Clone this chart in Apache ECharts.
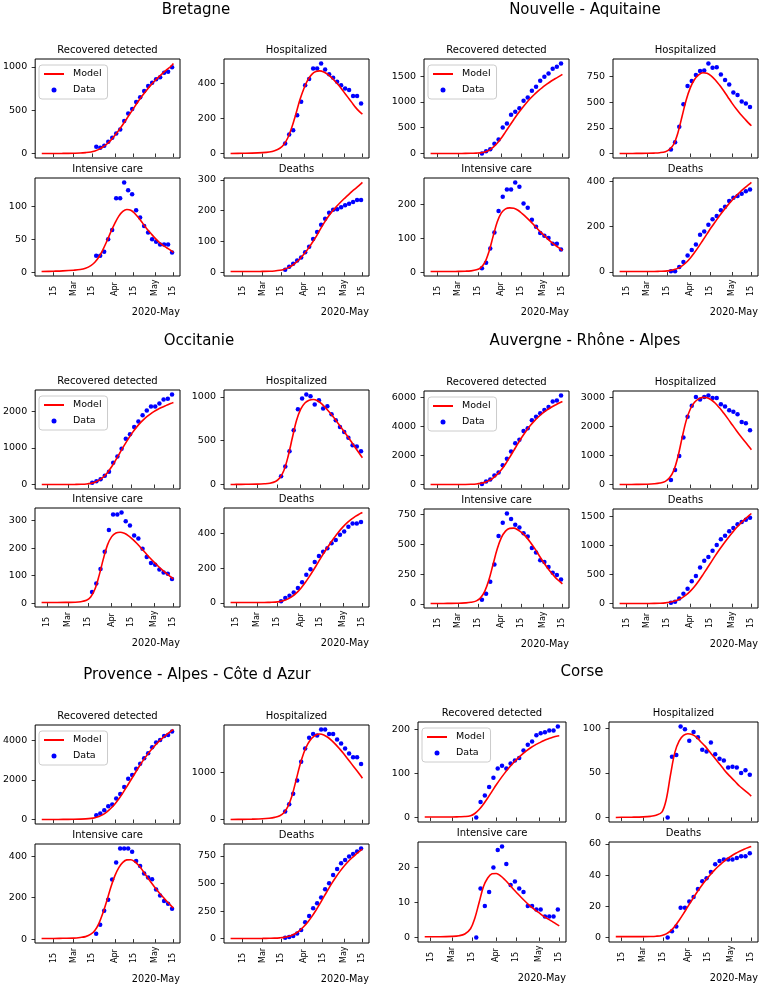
<!DOCTYPE html>
<html>
<head>
<meta charset="utf-8">
<script src="https://cdn.jsdelivr.net/npm/echarts@6/dist/echarts.min.js"></script>
<style>
html, body { margin: 0; padding: 0; background: #fff; }
#main { width: 762px; height: 987px; }
</style>
</head>
<body>
<div id="main"></div>
<script>
var regions = ['Bretagne', 'Nouvelle - Aquitaine', 'Occitanie', 'Auvergne - Rhône - Alpes', 'Provence - Alpes - Côte d Azur', 'Corse'];
var plotTitles = ['Recovered detected', 'Hospitalized', 'Intensive care', 'Deaths'];

// model curve: first value at the region's start date, then one per modelDates entry
var modelStart = ['2020-02-06', '2020-02-10', '2020-02-11', '2020-02-10', '2020-02-06', '2020-02-11'];
var modelDates = ['2020-02-15', '2020-02-22', '2020-03-01', '2020-03-06', '2020-03-10', '2020-03-14',
  '2020-03-17', '2020-03-20', '2020-03-23', '2020-03-26', '2020-03-29', '2020-04-01', '2020-04-04',
  '2020-04-07', '2020-04-10', '2020-04-13', '2020-04-16', '2020-04-19', '2020-04-22', '2020-04-25',
  '2020-04-28', '2020-05-01', '2020-05-04', '2020-05-07', '2020-05-10', '2020-05-13', '2020-05-15'];
var dataDates = ['2020-03-18', '2020-03-21', '2020-03-24', '2020-03-27', '2020-03-30', '2020-04-02',
  '2020-04-05', '2020-04-08', '2020-04-11', '2020-04-14', '2020-04-17', '2020-04-20', '2020-04-23',
  '2020-04-26', '2020-04-29', '2020-05-02', '2020-05-05', '2020-05-08', '2020-05-11', '2020-05-14'];
var xTickDates = ['2020-02-15', '2020-03-01', '2020-03-15', '2020-04-01', '2020-04-15', '2020-05-01', '2020-05-15'];
var xTickLabels = ['15', 'Mar', '15', 'Apr', '15', 'May', '15'];

// Bretagne
var bretagneRecData = [77, 66, 89, 135, 181, 232, 278, 375, 463, 514, 595, 649, 722, 780, 819, 857, 880, 934, 946, 996];
var bretagneRecModel = [0, 0, 1, 3, 5, 10, 18, 30, 48, 75, 110, 155, 210, 270, 335, 405, 475, 545, 612, 675, 735, 790, 840, 885, 928, 968, 1005, 1040];
var bretagneHospData = [57, 109, 133, 219, 295, 390, 425, 486, 486, 514, 480, 453, 432, 410, 390, 371, 362, 328, 328, 286];
var bretagneHospModel = [0, 1, 2, 5, 9, 16, 30, 52, 90, 150, 225, 305, 370, 420, 452, 468, 472, 466, 452, 432, 408, 382, 352, 322, 292, 262, 238, 225];
var bretagneIcData = [25, 25, 31, 50, 64, 112, 112, 136, 124, 118, 94, 83, 70, 60, 50, 46, 42, 42, 42, 30];
var bretagneIcModel = [1, 1.5, 2, 3, 4, 6, 10, 15, 23, 34, 47, 61, 74, 85, 92, 95, 94, 89, 82, 74, 66, 59, 52, 46, 41, 37, 33, 30];
var bretagneDeathData = [8, 18, 27, 38, 48, 65, 83, 108, 131, 154, 174, 193, 203, 205, 211, 218, 223, 228, 235, 235];
var bretagneDeathModel = [2, 2, 2, 2.5, 3, 4, 6, 9, 14, 21, 31, 43, 58, 75, 94, 114, 137, 159, 179, 196, 211, 225, 238, 250, 262, 273, 284, 292];

// Nouvelle - Aquitaine
var aquitaineRecData = [0, 45, 84, 187, 270, 502, 580, 753, 811, 876, 1024, 1088, 1217, 1294, 1410, 1487, 1552, 1642, 1681, 1745];
var aquitaineRecModel = [0, 0, 0, 1, 2, 4, 8, 12, 28, 60, 120, 200, 300, 420, 540, 660, 775, 880, 980, 1070, 1150, 1225, 1290, 1350, 1405, 1455, 1500, 1535];
var aquitaineHospData = [39, 109, 260, 479, 656, 704, 762, 801, 807, 875, 833, 839, 768, 714, 672, 592, 569, 505, 486, 453];
var aquitaineHospModel = [0, 0, 1, 2, 4, 8, 18, 40, 90, 200, 360, 520, 640, 720, 765, 785, 780, 755, 715, 665, 610, 550, 490, 435, 385, 340, 295, 270];
var aquitaineIcData = [12, 28, 70, 117, 181, 223, 244, 244, 265, 252, 203, 190, 155, 134, 116, 108, 101, 84, 84, 67];
var aquitaineIcModel = [2, 2, 2, 2.5, 3, 4, 7, 13, 28, 60, 105, 148, 175, 187, 190, 189, 183, 173, 162, 150, 137, 124, 112, 100, 89, 79, 70, 64];
var aquitaineDeathData = [3, 3, 22, 44, 73, 97, 121, 164, 179, 208, 233, 247, 272, 288, 313, 327, 335, 345, 356, 364];
var aquitaineDeathModel = [2, 2, 2, 2, 2, 3, 4, 6, 10, 16, 27, 42, 62, 86, 112, 140, 168, 196, 222, 248, 272, 295, 316, 336, 354, 370, 385, 395];

// Occitanie
var occitanieRecData = [46, 91, 146, 237, 347, 594, 767, 977, 1251, 1370, 1571, 1717, 1890, 2018, 2128, 2128, 2210, 2320, 2338, 2457];
var occitanieRecModel = [0, 0, 0, 1, 3, 6, 14, 30, 62, 118, 205, 330, 490, 680, 880, 1075, 1260, 1430, 1580, 1710, 1820, 1910, 1990, 2055, 2110, 2160, 2210, 2240];
var occitanieHospData = [95, 206, 378, 618, 859, 981, 1027, 1008, 912, 962, 866, 893, 802, 733, 656, 599, 534, 447, 435, 378];
var occitanieHospModel = [0, 1, 2, 4, 8, 15, 35, 75, 160, 320, 530, 730, 860, 930, 962, 970, 955, 920, 870, 815, 755, 690, 625, 560, 490, 420, 350, 305];
var occitanieIcData = [40, 71, 124, 187, 266, 323, 323, 330, 298, 283, 246, 235, 198, 168, 146, 140, 122, 111, 107, 88];
var occitanieIcModel = [2, 2, 2, 2.5, 3, 5, 10, 22, 50, 100, 160, 212, 242, 255, 258, 254, 245, 232, 217, 200, 183, 166, 150, 135, 121, 108, 96, 88];
var occitanieDeathData = [10, 29, 42, 61, 86, 120, 162, 194, 236, 270, 295, 314, 343, 362, 392, 411, 438, 457, 457, 465];
var occitanieDeathModel = [3, 3, 3, 3, 3, 4, 5, 8, 14, 24, 38, 58, 84, 115, 150, 188, 228, 268, 306, 342, 376, 408, 436, 460, 480, 498, 512, 520];

// Auvergne - Rhône - Alpes
var auvergneRecData = [46, 206, 343, 618, 824, 1327, 1785, 2288, 2860, 3089, 3707, 3890, 4439, 4691, 4920, 5149, 5355, 5744, 5812, 6156];
var auvergneRecModel = [0, 0, 1, 3, 8, 18, 40, 80, 150, 270, 450, 700, 1020, 1420, 1880, 2360, 2840, 3300, 3720, 4090, 4420, 4700, 4950, 5160, 5340, 5500, 5650, 5740];
var auvergneHospData = [160, 502, 981, 1619, 2337, 2714, 3010, 2930, 3010, 3067, 2976, 2976, 2760, 2691, 2554, 2508, 2417, 2155, 2109, 1870];
var auvergneHospModel = [0, 2, 5, 12, 25, 50, 110, 230, 480, 950, 1600, 2200, 2600, 2830, 2950, 3000, 2990, 2920, 2800, 2640, 2460, 2270, 2070, 1870, 1680, 1500, 1320, 1200];
var auvergneIcData = [34, 84, 185, 331, 570, 680, 758, 711, 663, 640, 593, 565, 469, 430, 365, 351, 309, 261, 242, 205];
var auvergneIcModel = [3, 3, 4, 5, 8, 13, 25, 50, 105, 200, 330, 460, 555, 610, 633, 635, 620, 595, 560, 515, 465, 410, 355, 305, 260, 220, 188, 168];
var auvergneDeathData = [17, 34, 91, 170, 255, 385, 475, 622, 736, 804, 911, 1007, 1109, 1166, 1245, 1302, 1364, 1403, 1443, 1477];
var auvergneDeathModel = [3, 3, 3, 4, 5, 8, 14, 24, 40, 65, 100, 150, 215, 295, 390, 495, 605, 715, 825, 930, 1030, 1125, 1215, 1300, 1375, 1445, 1510, 1550];

// Provence - Alpes - Côte d Azur
var provenceRecData = [218, 303, 471, 672, 756, 1059, 1294, 1647, 2067, 2252, 2571, 2824, 3109, 3361, 3664, 3899, 4034, 4235, 4286, 4454];
var provenceRecModel = [0, 2, 5, 10, 18, 30, 55, 90, 150, 250, 390, 570, 790, 1050, 1350, 1670, 2000, 2330, 2660, 2970, 3250, 3510, 3740, 3950, 4140, 4310, 4470, 4560];
var provenceHospData = [176, 331, 549, 831, 1232, 1514, 1739, 1817, 1789, 1915, 1915, 1817, 1817, 1704, 1620, 1514, 1408, 1324, 1324, 1183];
var provenceHospModel = [5, 8, 12, 20, 32, 50, 85, 150, 280, 500, 820, 1150, 1420, 1610, 1730, 1800, 1820, 1800, 1750, 1680, 1595, 1500, 1400, 1290, 1180, 1070, 960, 880];
var provenceIcData = [26, 69, 137, 190, 287, 369, 437, 437, 437, 421, 377, 353, 316, 297, 289, 239, 210, 184, 171, 147];
var provenceIcModel = [3, 3, 4, 5, 8, 12, 24, 42, 75, 125, 185, 250, 305, 345, 370, 382, 383, 373, 355, 330, 302, 275, 250, 226, 204, 183, 163, 150];
var provenceDeathData = [9, 15, 24, 48, 79, 148, 205, 275, 320, 372, 447, 502, 577, 631, 683, 713, 743, 767, 789, 816];
var provenceDeathModel = [2, 2, 2, 3, 4, 5, 8, 12, 20, 32, 50, 76, 110, 152, 200, 255, 315, 378, 440, 500, 556, 607, 653, 694, 730, 762, 792, 810];

// Corse
var corseRecData = [0, 35, 50, 69, 90, 111, 117, 111, 122, 129, 135, 152, 165, 172, 186, 191, 193, 197, 197, 206];
var corseRecModel = [1, 1, 1, 1, 1.5, 2, 4, 9, 18, 30, 44, 59, 74, 88, 101, 113, 124, 134, 143, 151, 158, 164, 169, 174, 178, 181, 184, 185];
var corseHospData = [0, 68, 70, 102, 99, 86, 96, 90, 76, 74, 84, 71, 66, 64, 56, 57, 56, 50, 53, 48];
var corseHospModel = [0, 0.2, 0.3, 0.6, 1.2, 2.5, 6, 20, 48, 73, 86, 92, 94, 93, 90, 85, 80, 74, 68, 62, 56, 50, 45, 40, 35, 31, 27, 24];
var corseIcData = [0, 14, 9, 13, 20, 25, 26, 21, 15, 16, 14, 13, 9, 9, 8, 8, 6, 6, 6, 8];
var corseIcModel = [0.2, 0.2, 0.2, 0.3, 0.5, 1, 2.5, 5.5, 10, 14.5, 17, 18.2, 18.3, 17.6, 16.5, 15.2, 13.8, 12.5, 11.2, 10, 8.9, 7.9, 7, 6.1, 5.3, 4.6, 3.8, 3.3];
var corseDeathData = [0, 4, 7, 19, 19, 23, 26, 31, 36, 38, 42, 47, 49, 50, 50, 50, 51, 52, 52, 54];
var corseDeathModel = [0.5, 0.5, 0.5, 0.5, 0.6, 0.8, 1.3, 2.3, 4.2, 7.2, 11, 15.3, 19.8, 24.2, 28.5, 32.5, 36.2, 39.6, 42.7, 45.5, 48, 50.2, 52.1, 53.8, 55.3, 56.6, 57.7, 58.3];

// y tick labels per region, per subplot
var bretagneTicks = [[0, 500, 1000], [0, 200, 400], [0, 50, 100], [0, 100, 200, 300]];
var aquitaineTicks = [[0, 500, 1000, 1500], [0, 250, 500, 750], [0, 100, 200], [0, 200, 400]];
var occitanieTicks = [[0, 1000, 2000], [0, 500, 1000], [0, 100, 200, 300], [0, 200, 400]];
var auvergneTicks = [[0, 2000, 4000, 6000], [0, 1000, 2000, 3000], [0, 250, 500, 750], [0, 500, 1000, 1500]];
var provenceTicks = [[0, 2000, 4000], [0, 1000], [0, 200, 400], [0, 250, 500, 750]];
var corseTicks = [[0, 100, 200], [0, 50, 100], [0, 10, 20], [0, 20, 40, 60]];

var allData = [
  [bretagneRecData, bretagneHospData, bretagneIcData, bretagneDeathData],
  [aquitaineRecData, aquitaineHospData, aquitaineIcData, aquitaineDeathData],
  [occitanieRecData, occitanieHospData, occitanieIcData, occitanieDeathData],
  [auvergneRecData, auvergneHospData, auvergneIcData, auvergneDeathData],
  [provenceRecData, provenceHospData, provenceIcData, provenceDeathData],
  [corseRecData, corseHospData, corseIcData, corseDeathData]
];
var allModel = [
  [bretagneRecModel, bretagneHospModel, bretagneIcModel, bretagneDeathModel],
  [aquitaineRecModel, aquitaineHospModel, aquitaineIcModel, aquitaineDeathModel],
  [occitanieRecModel, occitanieHospModel, occitanieIcModel, occitanieDeathModel],
  [auvergneRecModel, auvergneHospModel, auvergneIcModel, auvergneDeathModel],
  [provenceRecModel, provenceHospModel, provenceIcModel, provenceDeathModel],
  [corseRecModel, corseHospModel, corseIcModel, corseDeathModel]
];
var allTicks = [bretagneTicks, aquitaineTicks, occitanieTicks, auvergneTicks, provenceTicks, corseTicks];

// page layout (pixels): title centre, subplot box columns and rows
var layout = [
  { title: [196, 10], xs: [[35, 180], [224, 369]], ys: [[59, 158], [178, 276]] },
  { title: [585, 10], xs: [[424, 569], [613, 758]], ys: [[59, 158], [178, 276]] },
  { title: [199, 341], xs: [[35, 180], [224, 369]], ys: [[390, 489], [508, 607]] },
  { title: [585, 341], xs: [[424, 569], [613, 758]], ys: [[391, 489], [509, 608]] },
  { title: [197, 675], xs: [[35, 180], [224, 369]], ys: [[725, 824], [844, 943]] },
  { title: [582, 672], xs: [[418, 566], [609, 758]], ys: [[722, 822], [842, 942]] }
];

var FONT = 'DejaVu Sans';

function ts(s) {
  var p = s.split('-');
  return new Date(+p[0], +p[1] - 1, +p[2]).getTime();
}

var xTickTs = xTickDates.map(ts);
var dataTs = dataDates.map(ts);
var modelTs = modelDates.map(ts);

function xLabel(v) {
  for (var i = 0; i < xTickTs.length; i++) {
    if (Math.abs(xTickTs[i] - v) < 1000) return xTickLabels[i];
  }
  return '';
}

var chartDom = document.getElementById('main');
var myChart = echarts.init(chartDom, null, { renderer: 'canvas' });

var grids = [], xAxes = [], yAxes = [], series = [], titles = [], legends = [];

regions.forEach(function (name, r) {
  var L = layout[r];
  titles.push({
    text: name, left: L.title[0], top: L.title[1], textAlign: 'center', textVerticalAlign: 'middle', padding: 0,
    textStyle: { fontSize: 15, fontWeight: 'normal', fontFamily: FONT, color: '#000' }
  });
  var t0 = ts(modelStart[r]);
  var t1 = modelTs[modelTs.length - 1];
  var xpad = (t1 - t0) * 0.05;

  for (var k = 0; k < 4; k++) {
    var col = k % 2, row = Math.floor(k / 2);
    var x0 = L.xs[col][0], x1 = L.xs[col][1];
    var y0 = L.ys[row][0], y1 = L.ys[row][1];
    var g = grids.length;
    var model = allModel[r][k], data = allData[r][k];
    var vals = model.concat(data);
    var lo = Math.min.apply(null, vals), hi = Math.max.apply(null, vals);
    var ypad = (hi - lo) * 0.05;

    grids.push({
      left: x0, top: y0, width: x1 - x0, height: y1 - y0,
      show: true, borderColor: '#000', borderWidth: 1, backgroundColor: 'transparent'
    });
    xAxes.push({
      type: 'value', gridIndex: g, min: t0 - xpad, max: t1 + xpad,
      axisLine: { show: false }, splitLine: { show: false },
      axisTick: { show: true, customValues: xTickTs, length: 3.5, lineStyle: { color: '#000', width: 0.8 } },
      axisLabel: {
        show: row === 1, customValues: xTickTs, formatter: xLabel, rotate: 90, align: 'left', margin: 20,
        fontSize: 8, fontFamily: FONT, color: '#000'
      }
    });
    yAxes.push({
      type: 'value', gridIndex: g, min: lo - ypad, max: hi + ypad,
      axisLine: { show: false }, splitLine: { show: false },
      axisTick: { show: true, customValues: allTicks[r][k], length: 3.5, lineStyle: { color: '#000', width: 0.8 } },
      axisLabel: {
        customValues: allTicks[r][k], formatter: function (v) { return String(v); }, margin: 8,
        fontSize: 9.5, fontFamily: FONT, color: '#000'
      }
    });
    series.push({
      name: 'Model', type: 'line', xAxisIndex: g, yAxisIndex: g,
      data: [[t0, model[0]]].concat(modelTs.map(function (t, i) { return [t, model[i + 1]]; })),
      symbol: 'none', smooth: 0.35, lineStyle: { color: '#ff0000', width: 1.6 }, itemStyle: { color: '#ff0000' }
    });
    series.push({
      name: 'Data', type: 'scatter', xAxisIndex: g, yAxisIndex: g,
      data: dataTs.map(function (t, i) { return [t, data[i]]; }),
      symbolSize: 4.5, itemStyle: { color: '#0000ff', opacity: 1 }
    });
    titles.push({
      text: plotTitles[k], left: (x0 + x1) / 2, top: y0 - 9, textAlign: 'center', textVerticalAlign: 'middle', padding: 0,
      textStyle: { fontSize: 10, fontWeight: 'normal', fontFamily: FONT, color: '#000' }
    });
    if (row === 1) {
      titles.push({
        text: '2020-May', left: x1, top: y1 + 36, textAlign: 'right', textVerticalAlign: 'middle', padding: 0,
        textStyle: { fontSize: 9.7, fontWeight: 'normal', fontFamily: FONT, color: '#000' }
      });
    }
    if (k === 0) {
      legends.push({
        orient: 'vertical', left: x0 + 4, top: y0 + 6, selectedMode: false,
        data: [{ name: 'Model', itemStyle: { opacity: 0 } }, { name: 'Data', icon: 'circle', itemStyle: { opacity: 1 } }],
        itemWidth: 20, itemHeight: 5, itemGap: 6, padding: [4, 6, 4, 4],
        backgroundColor: 'rgba(255,255,255,0.8)', borderColor: '#cccccc', borderWidth: 1, borderRadius: 3,
        textStyle: { fontSize: 9.5, fontFamily: FONT, color: '#000', padding: [0, 0, 0, 4] }
      });
    }
  }
});

var option = {
  animation: false,
  backgroundColor: '#fff',
  title: titles,
  legend: legends,
  grid: grids,
  xAxis: xAxes,
  yAxis: yAxes,
  series: series
};

option && myChart.setOption(option);
</script>
</body>
</html>
